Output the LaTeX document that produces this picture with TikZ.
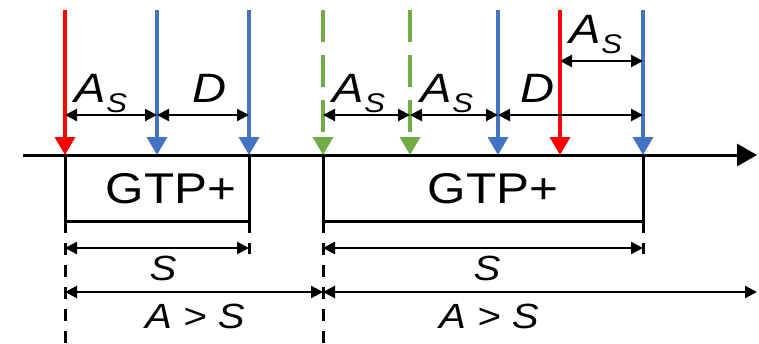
\documentclass[tikz,border=0pt]{standalone}
\usepackage{fontspec}
\setmainfont{Liberation Sans}[FakeStretch=1.15]
\usetikzlibrary{arrows.meta}
\definecolor{cred}{HTML}{FF0000}
\definecolor{cblue}{HTML}{4472C4}
\definecolor{cgreen}{HTML}{70AD47}
\newcommand{\AsLab}{A\raisebox{-10pt}{\fontsize{27}{27}\selectfont S}}
\begin{document}
\begin{tikzpicture}[x=1pt,y=-1pt,
  sig/.style={line width=3.5pt,-{Triangle[length=18pt,width=20pt]}},
  sigdash/.style={sig,dash pattern=on 32pt off 13pt},
  axisline/.style={line width=3pt,-{Triangle[length=20pt,width=22pt]}},
  boxline/.style={line width=3pt},
  extline/.style={line width=3pt,dash pattern=on 12pt off 10pt},
  dimline/.style={line width=2.3pt,{Triangle[length=12pt,width=12pt]}-{Triangle[length=12pt,width=12pt]}},
  toplab/.style={anchor=base,inner sep=0pt,font=\fontsize{41}{41}\selectfont\itshape},
  boxlab/.style={anchor=base,inner sep=0pt,font=\fontsize{43}{43}\selectfont},
  botlab/.style={anchor=base,inner sep=0pt,font=\fontsize{35}{35}\selectfont\itshape}]
\useasboundingbox (0,0) rectangle (759,343);

% axis
\coordinate (ax0) at (23,155);
\coordinate (ax1) at (757,155);
\draw[axisline] (ax0) -- (ax1);

% signal arrow coordinates
\coordinate (r1t) at (65,10);  \coordinate (r1b) at (65,155);
\coordinate (b1t) at (157,10); \coordinate (b1b) at (157,155);
\coordinate (b2t) at (249,10); \coordinate (b2b) at (249,155);
\coordinate (g1t) at (323,10); \coordinate (g1b) at (323,155);
\coordinate (g2t) at (410,10); \coordinate (g2b) at (410,155);
\coordinate (b3t) at (498,10); \coordinate (b3b) at (498,155);
\coordinate (r2t) at (560,10); \coordinate (r2b) at (560,155);
\coordinate (b4t) at (643,10); \coordinate (b4b) at (643,155);

% boxes
\coordinate (k1l) at (65,221);  \coordinate (k1r) at (249,221);
\coordinate (k2l) at (323,221); \coordinate (k2r) at (643,221);
\draw[boxline] (r1b) -- (k1l) -- (k1r) -- (b2b);
\draw[boxline] (g1b) -- (k2l) -- (k2r) -- (b4b);
\coordinate (e1l) at (65,343);  \coordinate (e1r) at (249,254);
\coordinate (e2l) at (323,343); \coordinate (e2r) at (643,254);
\draw[extline] (k1l) -- (e1l);
\draw[extline] (k1r) -- (e1r);
\draw[extline] (k2l) -- (e2l);
\draw[extline] (k2r) -- (e2r);

% signal arrows
\draw[sig,cred] (r1t) -- (r1b);
\draw[sig,cblue] (b1t) -- (b1b);
\draw[sig,cblue] (b2t) -- (b2b);
\draw[sigdash,cgreen] (g1t) -- (g1b);
\draw[sigdash,cgreen] (g2t) -- (g2b);
\draw[sig,cblue] (b3t) -- (b3b);
\draw[sig,cred] (r2t) -- (r2b);
\draw[sig,cblue] (b4t) -- (b4b);

% upper dimension coordinates
\coordinate (d1) at (65,115);  \coordinate (d2) at (157,115);
\coordinate (d3) at (249,115); \coordinate (d4) at (323,115);
\coordinate (d5) at (410,115); \coordinate (d6) at (498,115);
\coordinate (d7) at (643,115);
\coordinate (t1) at (560,61);  \coordinate (t2) at (643,61);
\draw[dimline] (d1) -- (d2);
\draw[dimline] (d2) -- (d3);
\draw[dimline] (d4) -- (d5);
\draw[dimline] (d5) -- (d6);
\draw[dimline] (d6) -- (d7);
\draw[dimline] (t1) -- (t2);

% lower dimension coordinates
\coordinate (s1a) at (65,248);  \coordinate (s1b) at (249,248);
\coordinate (s2a) at (323,248); \coordinate (s2b) at (643,248);
\coordinate (a1a) at (65,292);  \coordinate (a1b) at (323,292);
\coordinate (a2a) at (323,292); \coordinate (a2b) at (757,292);
\draw[dimline] (s1a) -- (s1b);
\draw[dimline] (s2a) -- (s2b);
\draw[dimline] (a1a) -- (a1b);
\draw[dimline] (a2a) -- (a2b);

% labels
\node[toplab] (l1) at (101,102) {\AsLab};
\node[toplab] (l2) at (210,102) {D};
\node[toplab] (l3) at (359,102) {\AsLab};
\node[toplab] (l4) at (447,102) {\AsLab};
\node[toplab] (l5) at (538,102) {D};
\node[toplab] (l6) at (596,43) {\AsLab};
\node[boxlab] (g1) at (171,203) {GTP+};
\node[boxlab] (g2) at (493,203) {GTP+};
\node[botlab] (s1) at (163,280) {S};
\node[botlab] (s2) at (487,280) {S};
\node[botlab] (a1) at (195,328) {A > S};
\node[botlab] (a2) at (489,328) {A > S};
\end{tikzpicture}
\end{document}
